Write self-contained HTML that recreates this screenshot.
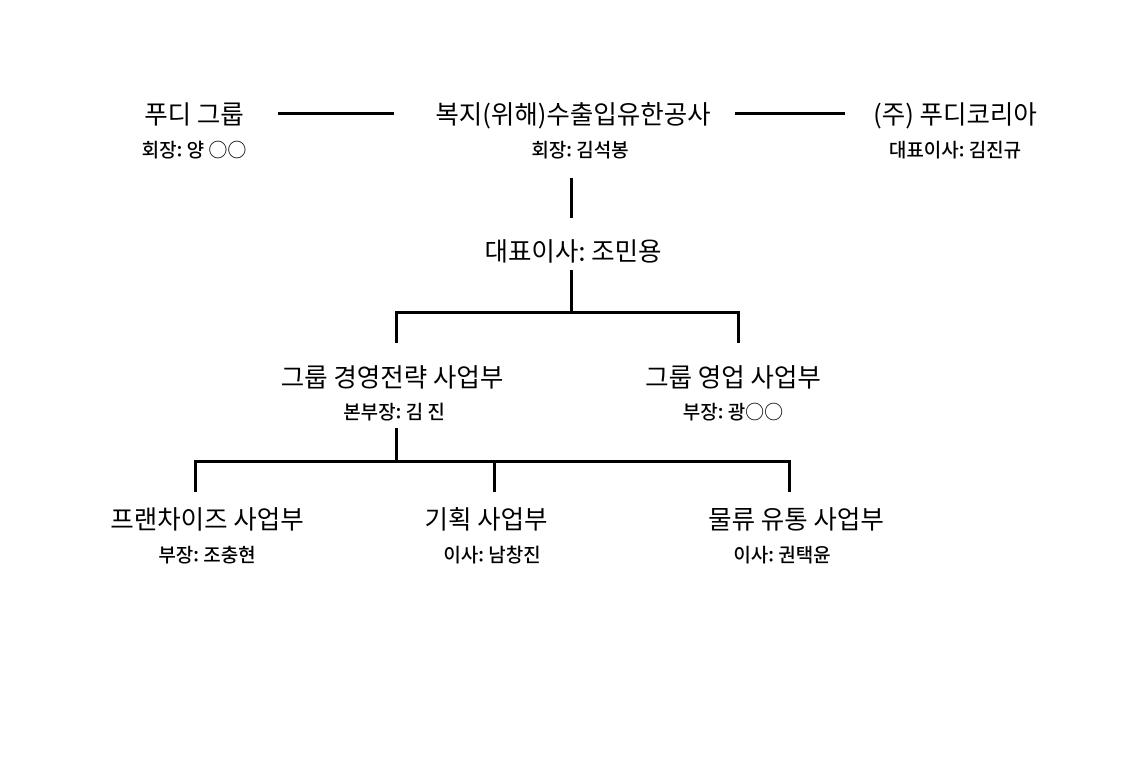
<!DOCTYPE html>
<html><head><meta charset="utf-8"><style>
body{margin:0;width:1147px;height:778px;background:#fff;position:relative;overflow:hidden;font-family:"Noto Sans CJK KR","Liberation Sans",sans-serif;color:#000}
.t{position:absolute;transform:translate(-50%,-50%);white-space:nowrap;font-size:25.5px;line-height:1}
.s{position:absolute;transform:translate(-50%,-50%);white-space:nowrap;font-size:19px;line-height:1;font-weight:500}
.l{position:absolute;background:#000}
</style></head><body>
<div class="t" style="left:194px;top:113px">푸디 그룹</div>
<div class="s" style="left:194px;top:149px">회장: 양 ○○</div>
<div class="t" style="left:573px;top:113px">복지(위해)수출입유한공사</div>
<div class="s" style="left:580px;top:149px">회장: 김석봉</div>
<div class="t" style="left:955px;top:113px">(주) 푸디코리아</div>
<div class="s" style="left:955px;top:149px">대표이사: 김진규</div>
<div class="l" style="left:278px;top:112px;width:116px;height:3px"></div>
<div class="l" style="left:735px;top:112px;width:110px;height:3px"></div>
<div class="l" style="left:570px;top:178px;width:3px;height:40px"></div>
<div class="t" style="left:573px;top:250px">대표이사: 조민용</div>
<div class="l" style="left:570px;top:270px;width:3px;height:43px"></div>
<div class="l" style="left:395px;top:311px;width:345px;height:3px"></div>
<div class="l" style="left:395px;top:311px;width:3px;height:32px"></div>
<div class="l" style="left:737px;top:311px;width:3px;height:32px"></div>
<div class="t" style="left:392px;top:376px">그룹 경영전략 사업부</div>
<div class="s" style="left:394px;top:411px">본부장: 김 진</div>
<div class="t" style="left:733px;top:376px">그룹 영업 사업부</div>
<div class="s" style="left:733px;top:411px">부장: 광○○</div>
<div class="l" style="left:395px;top:428px;width:3px;height:34px"></div>
<div class="l" style="left:194px;top:460px;width:597px;height:3px"></div>
<div class="l" style="left:194px;top:460px;width:3px;height:32px"></div>
<div class="l" style="left:493px;top:460px;width:3px;height:32px"></div>
<div class="l" style="left:788px;top:460px;width:3px;height:32px"></div>
<div class="t" style="left:207px;top:518px">프랜차이즈 사업부</div>
<div class="s" style="left:207px;top:554px">부장: 조충현</div>
<div class="t" style="left:486px;top:518px">기획 사업부</div>
<div class="s" style="left:492px;top:554px">이사: 남창진</div>
<div class="t" style="left:796px;top:518px">물류 유통 사업부</div>
<div class="s" style="left:782px;top:554px">이사: 권택윤</div>
</body></html>
